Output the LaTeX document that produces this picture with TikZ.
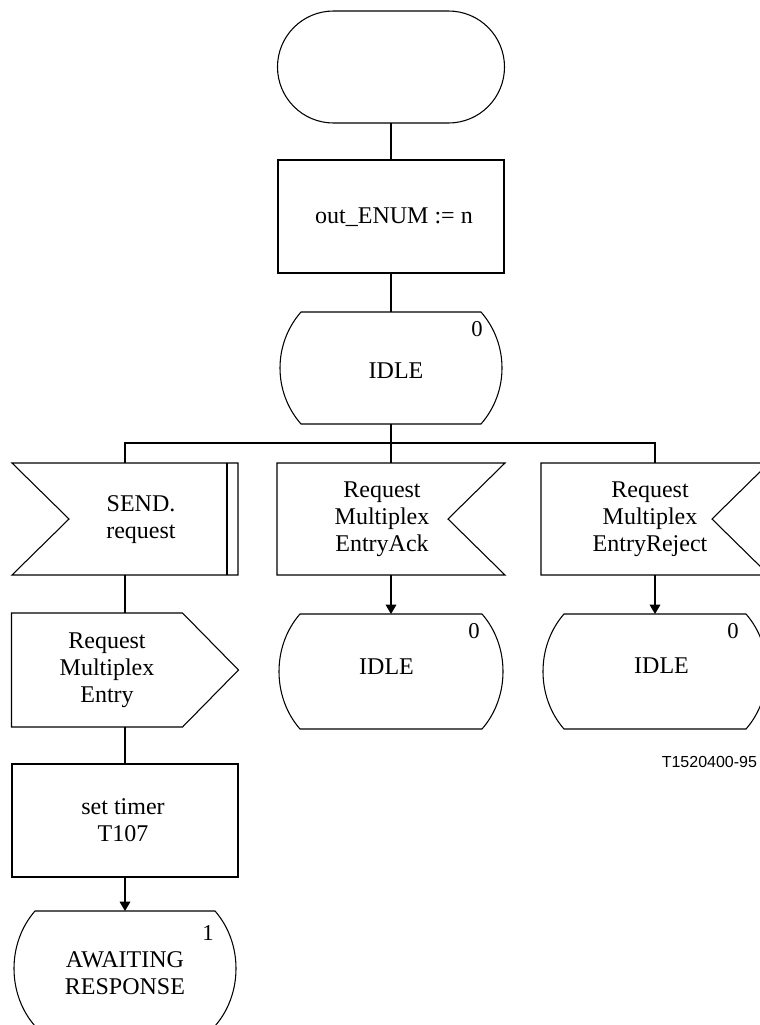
\documentclass[tikz,border=0pt]{standalone}
\usepackage{fontspec}
\setmainfont{Liberation Serif}
\newfontfamily\labelsans{Liberation Sans}
\usetikzlibrary{arrows.meta,calc}
\newcommand\statebody[1]{\draw ([xshift=17.25pt]#1.north west) -- ([xshift=-17.25pt]#1.north east) .. controls +(28,32) and +(28,-32) .. ([xshift=-17.25pt]#1.south east) -- ([xshift=17.25pt]#1.south west) .. controls +(-28,-32) and +(-28,32) .. ([xshift=17.25pt]#1.north west) -- cycle;}
\newcommand\inleftbody[1]{\draw (#1.north west) -- (#1.north east) -- (#1.south east) -- (#1.south west) -- ([xshift=42.75pt]#1.west) -- cycle;}
\newcommand\inrightbody[1]{\draw (#1.north west) -- (#1.north east) -- ([xshift=-42.75pt]#1.east) -- (#1.south east) -- (#1.south west) -- cycle;}
\newcommand\outrightbody[1]{\draw (#1.north west) -- ([xshift=-42pt]#1.north east) -- (#1.east) -- ([xshift=-42pt]#1.south east) -- (#1.south west) -- cycle;}
\begin{document}
\begin{tikzpicture}[x=0.75pt,y=-0.75pt,line width=0.8pt,
  every node/.style={inner sep=0pt,outer sep=0pt},
  termbox/.style={draw,rectangle,rounded corners=42pt,minimum width=170.25pt,minimum height=84pt},
  taskbox/.style={draw,rectangle,minimum width=169.5pt,minimum height=84.75pt},
  hollow/.style 2 args={rectangle,minimum width=#1,minimum height=#2},
  txt/.style={align=center,font=\fontsize{18}{20.25}\selectfont},
  num/.style={font=\fontsize{17}{19}\selectfont},
  arr/.style={-{Triangle[length=7pt,width=8pt]}}]
\useasboundingbox (0,0) rectangle (760,1025);
\begin{scope}
\clip (0,0) rectangle (760,1025);
% nodes
\node[termbox] (start) at (391,67) {};
\node[taskbox] (assign) at (391,216.5) {};
\node[txt] (assignT) at (394,217) {out\_ENUM := n};
\node[hollow={169.5pt}{84pt}] (idle0) at (391,368) {};
\node[txt] (idle0T) at (396,371) {IDLE};
\node[num] (idle0N) at (477,329) {0};

\node[hollow={169.5pt}{84pt}] (send) at (125,519) {};
\node[txt] (sendT) at (141,519.5) {SEND.\\request};
\node[hollow={171pt}{84pt}] (ack) at (391,519) {};
\node[txt] (ackT) at (382,519.5) {Request\\Multiplex\\EntryAck};
\node[hollow={171pt}{84pt}] (rej) at (655,519) {};
\node[txt] (rejT) at (650,519) {Request\\Multiplex\\EntryReject};

\node[hollow={170.25pt}{85.5pt}] (req) at (125,670) {};
\node[txt] (reqT) at (107,670) {Request\\Multiplex\\Entry};
\node[taskbox] (timer) at (125,820.5) {};
\node[txt] (timerT) at (123,820) {set timer\\T107};
\node[hollow={169.5pt}{86.25pt}] (await) at (125,968.5) {};
\node[txt] (awaitT) at (125,973) {AWAITING\\RESPONSE};
\node[num] (awaitN) at (208,933) {1};

\node[hollow={171pt}{86.25pt}] (idle1) at (391,671.5) {};
\node[txt] (idle1T) at (386.5,667) {IDLE};
\node[num] (idle1N) at (474,631) {0};
\node[hollow={171pt}{86.25pt}] (idle2) at (655,671.5) {};
\node[txt] (idle2T) at (661.5,666) {IDLE};
\node[num] (idle2N) at (733,631) {0};

\node[font=\labelsans\fontsize{12}{14}\selectfont,anchor=base east] (code) at (757,767) {T1520400-95};

% outlines
\statebody{idle0}
\statebody{idle1}
\statebody{idle2}
\statebody{await}
\inleftbody{send}
\draw ([xshift=-8.25pt]send.north east) -- ([xshift=-8.25pt]send.south east);
\inrightbody{ack}
\inrightbody{rej}
\outrightbody{req}

% connectors
\coordinate (bL) at (125,443);
\coordinate (bR) at (655,443);
\draw (start.south) -- (assign.north);
\draw (assign.south) -- (idle0.north);
\draw (idle0.south) -- (ack.north);
\draw (send.north) -- (bL) -- (bR) -- (rej.north);
\draw (send.south) -- (req.north);
\draw (req.south) -- (timer.north);
\draw[arr] (timer.south) -- (await.north);
\draw[arr] (ack.south) -- (idle1.north);
\draw[arr] (rej.south) -- (idle2.north);
\end{scope}
\end{tikzpicture}
\end{document}
